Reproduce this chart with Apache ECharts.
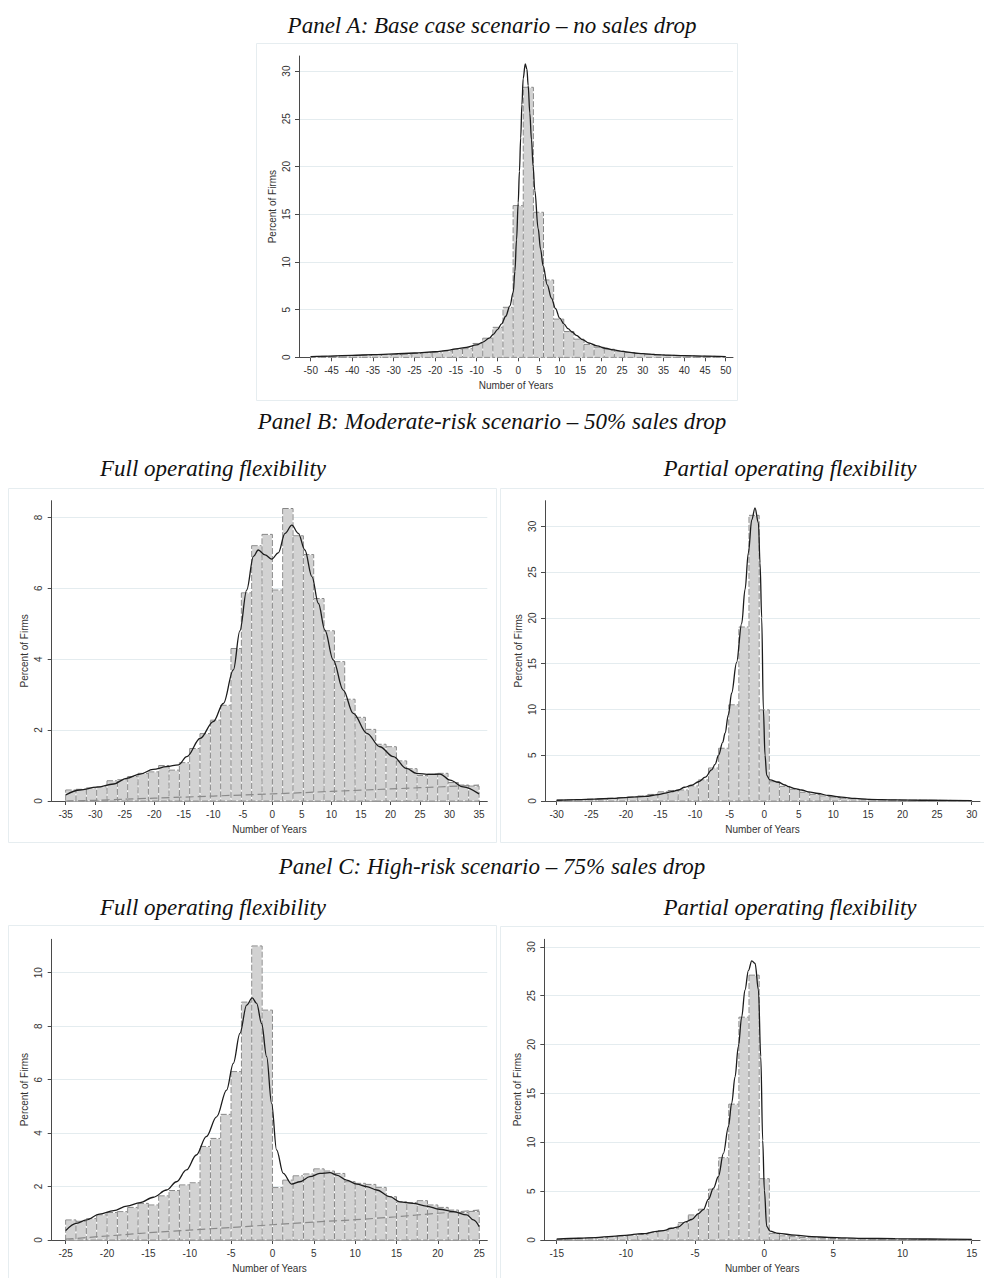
<!DOCTYPE html>
<html><head><meta charset="utf-8">
<script src="https://cdn.jsdelivr.net/npm/echarts@6/dist/echarts.min.js"></script>
<style>html,body{margin:0;padding:0;background:#fff}#c{width:984px;height:1278px}</style>
</head><body><div id="c"></div>
<script>
// ---------------- DATA ----------------
// Panel A: base case (41 bins from -50 to 50)
const aBinStart = -50, aBinWidth = 100 / 41;
const aBars = [0.08,0.1,0.12,0.15,0.18,0.22,0.25,0.27,0.3,0.33,0.4,0.47,0.55,0.65,0.85,0.9,1.45,2.0,3.14,5.24,
  15.9,28.3,15.2,8.1,4.0,2.7,1.9,1.35,1.05,0.85,0.65,0.5,0.4,0.32,0.25,0.2,0.17,0.14,0.12,0.1,0.08];
const aDensity = [[-50,0.08],[-45,0.13],[-40,0.2],[-35,0.28],[-30,0.35],[-25,0.45],[-20,0.58],[-17,0.72],[-15,0.88],[-12.5,1.05],
  [-10,1.3],[-8.5,1.6],[-7,2.0],[-6,2.4],[-5,2.9],[-4,3.5],[-3,4.3],[-2,5.4],[-1.2,6.8],[-0.8,9],[-0.4,12.3],[0,16.2],[0.3,19.5],
  [0.6,23],[0.9,26.5],[1.2,29.2],[1.7,30.75],[2.1,30.2],[2.4,28.5],[2.8,25.6],[3.2,22.8],[3.6,20],[4.0,17.5],[4.8,13.5],[5.4,11.3],
  [6.0,9.6],[7,7.6],[8,6.2],[9,5.1],[10,4.1],[11,3.5],[12,3.0],[13,2.65],[14,2.3],[15.5,1.85],[17,1.5],[19,1.2],[21,0.95],[23,0.78],
  [25,0.62],[28,0.45],[30,0.38],[33,0.28],[36,0.22],[40,0.17],[45,0.12],[50,0.08]];
const aTicksX = [-50,-45,-40,-35,-30,-25,-20,-15,-10,-5,0,5,10,15,20,25,30,35,40,45,50];
const aTicksY = [0,5,10,15,20,25,30];

// Panel B left: moderate risk, full flexibility (40 bins from -35 to 35)
const bLBinStart = -35, bLBinWidth = 1.75;
const bLBars = [0.31,0.33,0.37,0.4,0.57,0.6,0.69,0.78,0.82,1.0,0.87,1.08,1.48,1.9,2.28,2.7,4.3,5.87,7.2,7.52,
  5.95,8.25,7.48,6.95,5.71,4.8,3.93,2.87,2.36,2.02,1.6,1.53,1.13,0.91,0.72,0.76,0.78,0.52,0.45,0.42];
const bLDensity = [[-35,0.17],[-32.6,0.31],[-29.75,0.39],[-26.9,0.48],[-24.7,0.64],[-22.4,0.76],[-20.2,0.89],[-17.9,0.97],
  [-15.9,1.02],[-14.5,1.25],[-12.2,1.77],[-10,2.24],[-8.3,2.75],[-6.6,3.7],[-5.5,4.8],[-4.35,5.95],[-3.2,6.9],[-2.4,7.08],
  [-1.24,6.94],[-0.11,6.82],[1.0,7.0],[2.15,7.55],[3.3,7.78],[4.4,7.55],[5.5,7.08],[6.7,6.33],[7.8,5.57],[8.9,4.82],[10.3,3.98],
  [12,3.13],[13.7,2.47],[16,1.91],[18.2,1.53],[20.5,1.25],[22.7,0.92],[24.4,0.78],[26.7,0.75],[28.4,0.76],[30.1,0.59],[32.3,0.4],[35,0.2]];
const bLNormal = [[-35,0.0],[-30,0.02],[-25,0.05],[-20,0.08],[-10,0.14],[0,0.2],[10,0.27],[20,0.34],[30,0.41],[35,0.45]];
const bLTicksX = [-35,-30,-25,-20,-15,-10,-5,0,5,10,15,20,25,30,35];
const bLTicksY = [0,2,4,6,8];

// Panel B right: moderate risk, partial flexibility (41 bins from -30 to 30)
const bRBinStart = -30, bRBinWidth = 60 / 41;
const bRBars = [0.1,0.13,0.16,0.2,0.25,0.3,0.38,0.45,0.55,0.72,1.0,1.15,1.2,1.64,2.3,3.6,5.76,10.5,19.0,31.2,
  9.95,2.1,1.6,1.28,0.95,0.73,0.55,0.42,0.3,0.22,0.18,0.15,0.13,0.12,0.1,0.1,0.08,0.08,0.07,0.06,0.05];
const bRDensity = [[-30,0.08],[-27,0.15],[-24.5,0.2],[-22,0.29],[-19.6,0.4],[-17.2,0.5],[-15.3,0.7],[-14.3,0.85],[-13.4,1.02],
  [-12.4,1.2],[-11.5,1.5],[-10.5,1.72],[-9.5,2.1],[-8.5,2.6],[-7.6,3.4],[-7.1,4.0],[-6.6,5.0],[-6.0,6.4],[-5.66,7.4],[-5.18,9.4],
  [-4.7,11.8],[-4.0,15.1],[-3.25,19.4],[-2.77,23.1],[-2.29,27.1],[-1.8,30.7],[-1.33,32.0],[-0.84,30.4],[-0.6,26],[-0.36,20],
  [-0.12,10],[0.12,5.0],[0.36,2.8],[0.84,2.3],[2.05,2.05],[3.0,1.75],[3.5,1.57],[4.46,1.35],[5.4,1.2],[6.4,1.0],[7.8,0.82],
  [9.3,0.6],[11.2,0.42],[13.1,0.28],[15.1,0.18],[18.9,0.12],[23.7,0.08],[30,0.05]];
const bRTicksX = [-30,-25,-20,-15,-10,-5,0,5,10,15,20,25,30];
const bRTicksY = [0,5,10,15,20,25,30];

// Panel C left: high risk, full flexibility (40 bins from -25 to 25)
const cLBinStart = -25, cLBinWidth = 1.25;
const cLBars = [0.75,0.7,0.8,0.94,1.03,1.06,1.22,1.37,1.31,1.65,1.85,2.06,2.14,3.5,3.8,4.7,6.3,8.9,11.0,8.6,
  1.96,2.24,2.4,2.47,2.66,2.58,2.49,2.18,2.12,2.08,1.97,1.62,1.43,1.4,1.47,1.31,1.22,1.12,1.03,1.07];
const cLDensity = [[-25,0.35],[-23.7,0.62],[-22.5,0.75],[-20.9,0.97],[-19.2,1.1],[-17.6,1.27],[-16,1.4],[-14.4,1.6],[-12.8,1.87],
  [-11.6,2.18],[-10.4,2.62],[-9.2,3.18],[-8,3.87],[-6.75,4.61],[-5.54,5.61],[-4.73,6.61],[-3.93,7.73],[-3.12,8.79],[-2.44,9.06],
  [-1.91,8.85],[-1.31,8.1],[-0.7,6.86],[-0.1,5.11],[0.5,3.37],[1.31,2.49],[2.32,2.09],[3.32,2.18],[4.53,2.37],[5.74,2.49],
  [6.95,2.52],[7.76,2.43],[8.96,2.24],[10.2,2.09],[11.4,2.0],[12.6,1.87],[14.2,1.62],[15.4,1.43],[17,1.37],[18.6,1.27],
  [20.2,1.15],[21.9,1.06],[23.5,0.94],[24.3,0.75],[25,0.5]];
const cLNormal = [[-25,0.03],[-20,0.15],[-15,0.27],[-10,0.37],[-5,0.47],[0,0.57],[5,0.67],[10,0.76],[15,0.87],[20,1.0],[25,1.12]];
const cLTicksX = [-25,-20,-15,-10,-5,0,5,10,15,20,25];
const cLTicksY = [0,2,4,6,8,10];

// Panel C right: high risk, partial flexibility (41 bins from -15 to 15)
const cRBinStart = -15, cRBinWidth = 30 / 41;
const cRBars = [0.1,0.14,0.17,0.2,0.25,0.32,0.4,0.5,0.58,0.75,0.95,1.19,1.78,2.56,3.15,5.2,8.42,13.9,22.8,27.1,
  6.27,0.68,0.42,0.34,0.27,0.22,0.18,0.15,0.13,0.12,0.1,0.1,0.09,0.08,0.08,0.07,0.06,0.06,0.05,0.05,0.04];
const cRDensity = [[-15,0.08],[-13.4,0.18],[-12.2,0.25],[-11,0.38],[-9.8,0.5],[-9.1,0.63],[-8.6,0.65],[-7.9,0.85],[-7.3,0.95],
  [-6.7,1.2],[-6.2,1.35],[-5.7,1.85],[-5.24,2.1],[-4.76,2.7],[-4.4,3.1],[-4.04,4.15],[-3.67,5.3],[-3.31,6.5],[-2.95,8.86],
  [-2.59,11.6],[-2.35,14.0],[-2.11,16.7],[-1.87,19.8],[-1.63,22.8],[-1.39,25.6],[-1.14,27.6],[-0.9,28.57],[-0.66,28.3],
  [-0.42,25.6],[-0.25,18.75],[-0.11,10.2],[0.01,5.1],[0.18,1.4],[0.42,0.9],[1.02,0.68],[2.23,0.5],[3.43,0.34],[4.64,0.27],
  [5.84,0.22],[7.05,0.17],[9.46,0.14],[11.9,0.1],[15,0.07]];
const cRTicksX = [-15,-10,-5,0,5,10,15];
const cRTicksY = [0,5,10,15,20,25,30];

const titles = {
  a: 'Panel A: Base case scenario \u2013 no sales drop',
  b: 'Panel B: Moderate-risk scenario \u2013 50% sales drop',
  c: 'Panel C: High-risk scenario \u2013 75% sales drop',
  full: 'Full operating flexibility',
  partial: 'Partial operating flexibility'
};
const xName = 'Number of Years', yName = 'Percent of Firms';

// ---------------- LAYOUT / STYLE ----------------
const panels = [
  {grid:{left:299,top:56,width:434,height:301.3}, xMin:-52.82, xMax:51.76, yMax:31.58, tx:aTicksX, ty:aTicksY,
   start:aBinStart, width:aBinWidth, bars:aBars, dens:aDensity},
  {grid:{left:51.7,top:500.7,width:435.6,height:300.3}, xMin:-37.37, xMax:36.4, yMax:8.47, tx:bLTicksX, ty:bLTicksY,
   start:bLBinStart, width:bLBinWidth, bars:bLBars, dens:bLDensity, norm:bLNormal},
  {grid:{left:545,top:500.7,width:435,height:300.3}, xMin:-31.69, xMax:31.2, yMax:32.8, tx:bRTicksX, ty:bRTicksY,
   start:bRBinStart, width:bRBinWidth, bars:bRBars, dens:bRDensity},
  {grid:{left:51.7,top:939.3,width:435.6,height:300.7}, xMin:-26.69, xMax:25.98, yMax:11.25, tx:cLTicksX, ty:cLTicksY,
   start:cLBinStart, width:cLBinWidth, bars:cLBars, dens:cLDensity, norm:cLNormal},
  {grid:{left:544.3,top:939.3,width:435.7,height:300.7}, xMin:-15.9, xMax:15.6, yMax:30.77, tx:cRTicksX, ty:cRTicksY,
   start:cRBinStart, width:cRBinWidth, bars:cRBars, dens:cRDensity}
];

const axisCol = '#4a4a4a', txtCol = '#333', gridCol = '#e4ecef';
const sans = 'Liberation Sans, Arial, sans-serif';
const serif = 'Liberation Serif, Times New Roman, serif';

function renderBar(params, api) {
  const p0 = api.coord([api.value(0), api.value(2)]);
  const p1 = api.coord([api.value(1), 0]);
  const shape = {x: p0[0], y: p0[1], width: p1[0] - p0[0], height: p1[1] - p0[1]};
  return {type: 'group', children: [
    {type: 'rect', shape: shape, style: {fill: '#d2d2d2', stroke: '#ffffff', lineWidth: 1}},
    {type: 'rect', shape: shape, style: {fill: 'none', stroke: '#858585', lineWidth: 1, lineDash: [6, 2]}}
  ]};
}

const grids = [], xAxes = [], yAxes = [], series = [];
panels.forEach((p, i) => {
  grids.push(Object.assign({containLabel: false}, p.grid));
  xAxes.push({
    gridIndex: i, type: 'value', min: p.xMin, max: p.xMax,
    axisLine: {show: true, onZero: false, lineStyle: {color: axisCol, width: 1}},
    axisTick: {show: true, customValues: p.tx, length: 4, lineStyle: {color: axisCol}},
    axisLabel: {customValues: p.tx, interval: 0, fontSize: 10, color: txtCol, fontFamily: sans, margin: 8},
    splitLine: {show: false},
    name: xName, nameLocation: 'middle', nameGap: 23,
    nameTextStyle: {fontSize: 10, color: txtCol, fontFamily: sans}
  });
  yAxes.push({
    gridIndex: i, type: 'value', min: 0, max: p.yMax,
    axisLine: {show: true, onZero: false, lineStyle: {color: axisCol, width: 1}},
    axisTick: {show: true, customValues: p.ty, length: 4, lineStyle: {color: axisCol}},
    axisLabel: {customValues: p.ty, interval: 0, rotate: 90, fontSize: 10, color: txtCol, fontFamily: sans, margin: 8},
    splitLine: {show: true, lineStyle: {color: gridCol, width: 1}},
    name: yName, nameLocation: 'middle', nameGap: 22,
    nameTextStyle: {fontSize: 10, color: txtCol, fontFamily: sans}
  });
  series.push({
    type: 'custom', xAxisIndex: i, yAxisIndex: i, silent: true, z: 2,
    data: p.bars.map((h, k) => [p.start + k * p.width, p.start + (k + 1) * p.width, h]),
    encode: {x: [0, 1], y: 2}, renderItem: renderBar
  });
  if (p.norm) {
    series.push({
      type: 'line', xAxisIndex: i, yAxisIndex: i, data: p.norm, silent: true, z: 3,
      showSymbol: false, symbol: 'none', smooth: 0.3,
      lineStyle: {color: '#8a8a8a', width: 1.2, type: [8, 4]}
    });
  }
  series.push({
    type: 'line', xAxisIndex: i, yAxisIndex: i, data: p.dens, silent: true, z: 4,
    showSymbol: false, symbol: 'none', smooth: 0.35, smoothMonotone: 'x',
    lineStyle: {color: '#1c1c1c', width: 1.3}
  });
});

function frame(x, y, w, h) {
  return {type: 'rect', z: -10, shape: {x: x, y: y, width: w, height: h},
    style: {fill: 'none', stroke: '#e6edf0', lineWidth: 1}, silent: true};
}
function label(text, x, y) {
  return {type: 'text', x: x, y: y, silent: true,
    style: {text: text, font: 'italic 23px ' + serif, fill: '#111', textAlign: 'center', textVerticalAlign: 'middle'}};
}

const chart = echarts.init(document.getElementById('c'), null, {renderer: 'svg'});
chart.setOption({
  animation: false,
  backgroundColor: '#ffffff',
  grid: grids, xAxis: xAxes, yAxis: yAxes, series: series,
  graphic: [
    frame(256.5, 43.5, 481, 357),
    frame(8.5, 488.5, 488, 354),
    frame(500.5, 488.5, 490, 354),
    frame(8.5, 925.5, 488, 360),
    frame(500.5, 926.5, 490, 360),
    label(titles.a, 492, 25),
    label(titles.b, 492, 421),
    label(titles.full, 213, 468),
    label(titles.partial, 790, 468),
    label(titles.c, 492, 866),
    label(titles.full, 213, 907),
    label(titles.partial, 790, 907)
  ]
});
</script>
</body></html>
